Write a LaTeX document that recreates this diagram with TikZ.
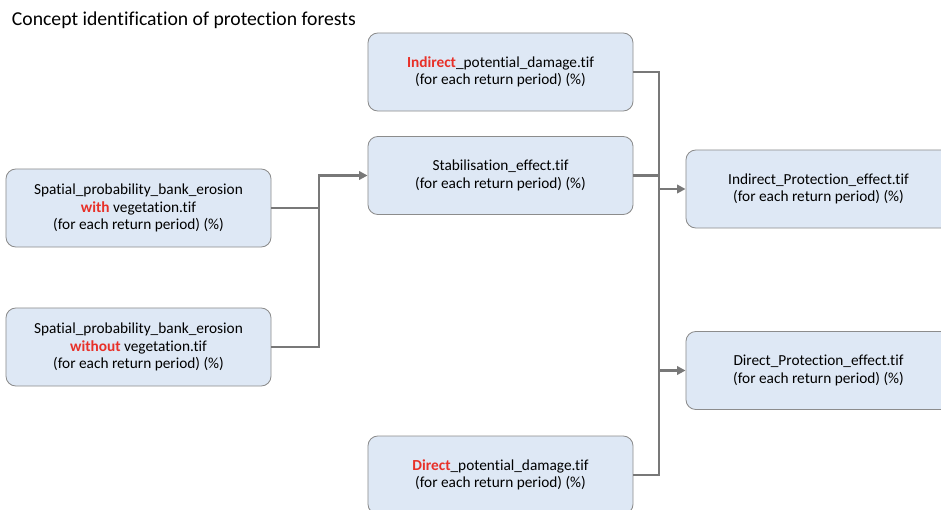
\documentclass[tikz,border=0pt]{standalone}
\usepackage{fontspec}
\setmainfont[Ligatures={NoCommon}]{Carlito}
\usetikzlibrary{arrows.meta}
\definecolor{boxfill}{RGB}{222,232,245}
\definecolor{boxline}{RGB}{140,140,140}
\definecolor{lnk}{RGB}{120,120,120}
\definecolor{hl}{RGB}{232,48,40}
\newcommand{\hlt}[1]{\textcolor{hl}{\textbf{#1}}}
\tikzset{
  box/.style={draw=boxline, fill=boxfill, rounded corners=7pt, line width=0.6pt,
    minimum width=6.625cm, minimum height=1.95cm, align=center,
    font=\fontsize{10.9}{12.4}\selectfont},
  conn/.style={draw=lnk, line width=1.8pt},
  arr/.style={conn, -{Triangle[length=6pt,width=6pt]}}
}
\begin{document}
\begin{tikzpicture}[x=0.025cm, y=-0.025cm]
		\useasboundingbox (0,0) rectangle (941,509);
		\clip (0,0) rectangle (941,509);
		\node[anchor=west, font=\fontsize{14}{16}\selectfont] (title) at (7,20) {Concept identification of protection forests};
		
		\node[box] (wv) at (138.5,208) {Spatial\_probability\_bank\_erosion\\ \hlt{with} vegetation.tif\\ (for each return period) (\%)};
		\node[box] (wov) at (138.5,347) {Spatial\_probability\_bank\_erosion\\ \hlt{without} vegetation.tif\\ (for each return period) (\%)};
		
		\node[box] (ipd) at (500.5,72) {\hlt{Indirect}\_potential\_damage.tif\\ (for each return period) (\%)};
		\node[box] (stab) at (500.5,175.5) {Stabilisation\_effect.tif\\ (for each return period) (\%)};
		\node[box] (dpd) at (500.5,475) {\hlt{Direct}\_potential\_damage.tif\\ (for each return period) (\%)};
		
		\node[box] (ipe) at (818.5,189) {Indirect\_Protection\_effect.tif\\ (for each return period) (\%)};
		\node[box] (dpe) at (818.5,370.5) {Direct\_Protection\_effect.tif\\ (for each return period) (\%)};
		
		\coordinate (jl) at (319,0);
		\coordinate (jr) at (659,0);
		
		\draw[conn] (wv.east) -- (wv.east -| jl);
		\draw[arr] (wov.east) -| (jl |- stab.west) -- (stab.west);
		
		\draw[conn] (ipd.east) -| (jr |- dpd.east) -- (dpd.east);
		\draw[conn] (stab.east) -- (stab.east -| jr);
		\draw[arr] (jr |- ipe.west) -- (ipe.west);
		\draw[arr] (jr |- dpe.west) -- (dpe.west);
		
		\end{tikzpicture}
\end{document}
